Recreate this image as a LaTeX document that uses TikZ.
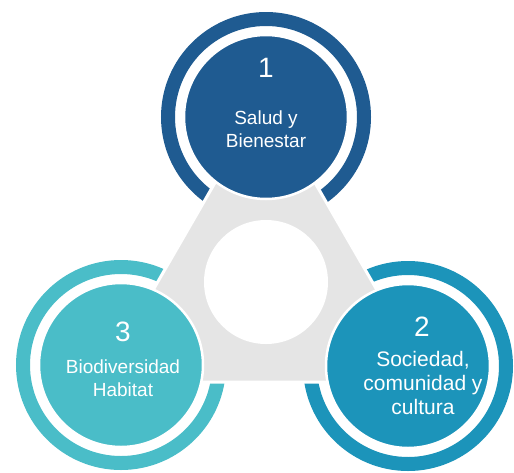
\documentclass[tikz,border=0pt]{standalone}
\usepackage{fontspec}
\setmainfont{Liberation Sans}
\usepackage{tikz}
\usepackage{xcolor}

\definecolor{saludblue}{HTML}{1F5B91}
\definecolor{sociedadblue}{HTML}{1C94BA}
\definecolor{bioteal}{HTML}{4ABDC8}
\definecolor{hubgrey}{HTML}{E5E5E5}

\begin{document}
\begin{tikzpicture}[x=1pt, y=-1pt, semithick]
\tikzstyle{ring} = [circle, draw, line width=14pt, minimum size=196pt, inner sep=0pt]
\tikzstyle{disc} = [circle, draw=white, line width=2.5pt, minimum size=164pt, inner sep=0pt]
\tikzstyle{number} = [text=white, font=\fontsize{28}{30}\selectfont]
\tikzstyle{caption} = [text=white, align=center, font=\fontsize{19}{23}\selectfont]

\useasboundingbox (0,0) rectangle (514,472);

% outer rings, the hub cuts them open
\node[ring, draw=saludblue] (R1) at (266,117) {};
\node[ring, draw=sociedadblue] (R2) at (408,366) {};
\node[ring, draw=bioteal] (R3) at (121,365) {};

% grey hub with the white hole
\coordinate (T) at (265,96);
\coordinate (L) at (100,382);
\coordinate (R) at (430,382);
\filldraw[fill=hubgrey, draw=white, line width=3pt] (T) -- (L) -- (R) -- cycle;
\node[circle, fill=white, minimum size=124pt] (core) at (266,282) {};

% discs
\node[disc, fill=saludblue] (A) at (R1) {};
\node[disc, fill=sociedadblue] (B) at (R2) {};
\node[disc, fill=bioteal] (C) at (R3) {};

\draw (A) node[number, yshift=49pt] {1};
\draw (B) node[number, xshift=14pt, yshift=39pt] {2};
\draw (C) node[number, xshift=2pt, yshift=33pt] {3};

\draw (A) node[caption, yshift=-12pt] {Salud y\\Bienestar};
\draw (B) node[caption, xshift=15pt, yshift=-17pt, font=\fontsize{21}{24}\selectfont] {Sociedad,\\comunidad y\\cultura};
\draw (C) node[caption, xshift=2pt, yshift=-13pt] {Biodiversidad\\Habitat};

\end{tikzpicture}
\end{document}
